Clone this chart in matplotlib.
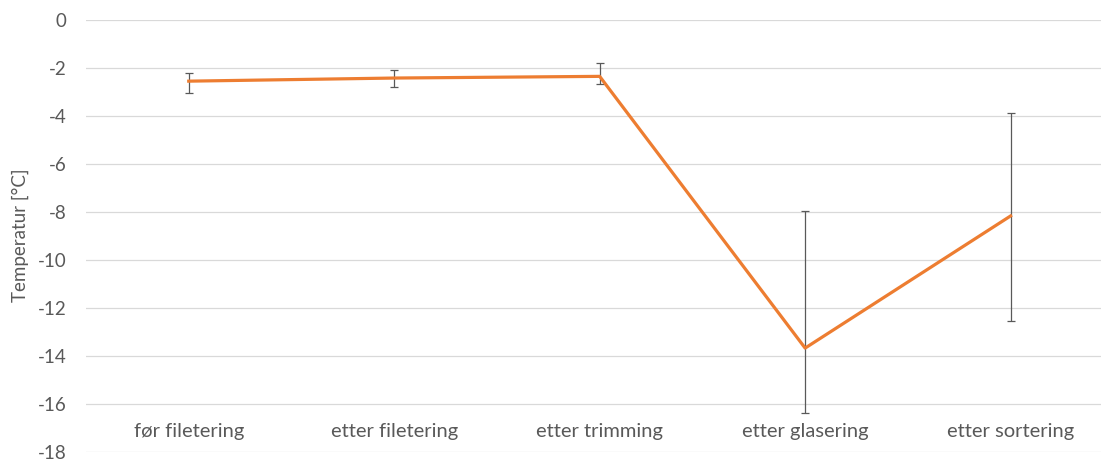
import numpy as np
import matplotlib.pyplot as plt

plt.rcParams['font.family'] = ['Lato', 'DejaVu Sans']

# temperature per processing step, mean with min/max spread
steg = ['før filetering', 'etter filetering', 'etter trimming', 'etter glasering', 'etter sortering']
snitt = np.array([-2.55, -2.42, -2.35, -13.68, -8.17])
topp = np.array([-2.20, -2.10, -1.80, -7.96, -3.89])
bunn = np.array([-3.06, -2.80, -2.68, -16.39, -12.54])
yticks = np.arange(-18, 1, 2)

fig = plt.figure(figsize=(11.01, 4.59), dpi=100)
ax = fig.add_axes([86 / 1101, 7.3 / 459, 1015 / 1101, 431.7 / 459])

x = np.arange(len(steg))
ax.errorbar(x, snitt, yerr=[snitt - bunn, topp - snitt], fmt='none',
            ecolor='#595959', elinewidth=0.9, capsize=3, capthick=0.9, zorder=2)
ax.plot(x, snitt, color='#ED7D31', lw=2.3, zorder=3, solid_joinstyle='round')

ax.set_xlim(-0.5, 4.44)
ax.set_ylim(-18, 0)
ax.set_yticks(yticks)
ax.set_yticklabels([str(v) for v in yticks])
ax.yaxis.grid(True, color='#D9D9D9', lw=0.9)
ax.set_axisbelow(True)
ax.set_xticks([])
ax.tick_params(axis='y', length=0, pad=14, labelsize=13.5, labelcolor='#595959')
for s in ax.spines.values():
    s.set_visible(False)

# category labels sit inside the plot, just above the bottom gridline
for i, navn in enumerate(steg):
    ax.text(i, -17.15, navn, ha='center', va='center', fontsize=14.5, color='#595959')

fig.text(20 / 1101, 0.487, 'Temperatur [°C]', rotation=90, ha='center', va='center',
         fontsize=13.5, color='#595959')

fig.savefig('out.png', dpi=100)
